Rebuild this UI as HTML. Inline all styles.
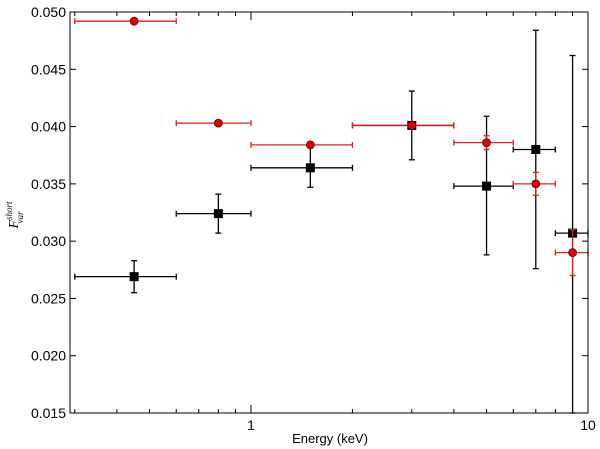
<!DOCTYPE html>
<html><head><meta charset="utf-8"><style>
html,body{margin:0;padding:0;background:#fff;}
svg{display:block;font-family:"Liberation Sans","DejaVu Sans",sans-serif;}
</style></head><body>
<svg id="chart" width="600" height="449" viewBox="0 0 600 449" xmlns="http://www.w3.org/2000/svg">
<rect width="600" height="449" fill="#fff"/>
<g id="ticks"></g>
<g id="marks"></g>
<rect x="70" y="12" width="518" height="401" fill="none" stroke="#000" stroke-width="1"/>
<text x="330" y="443" font-size="13" text-anchor="middle">Energy (keV)</text>
<text transform="translate(18,215) rotate(-90)" font-size="14" text-anchor="middle" font-family="Liberation Serif,serif" font-style="italic">F<tspan font-size="9" dy="-6">short</tspan><tspan font-size="9" dx="-22" dy="11">var</tspan></text>
</svg>
<script>
const binCenters=[0.45,0.8,1.5,3,5,7,9];
const binLo=[0.3,0.6,1,2,4,6,8];
const binHi=[0.6,1,2,4,6,8,10];
const blackVals=[0.0269,0.0324,0.0364,0.0401,0.0348,0.0380,0.0307];
const blackErrLo=[0.0255,0.0307,0.0347,0.0371,0.0288,0.0276,0.0150];
const blackErrHi=[0.0283,0.0341,0.0383,0.0431,0.0409,0.0484,0.0462];
const redVals=[0.0492,0.0403,0.0384,0.0401,0.0386,0.0350,0.0290];
const redErrLo=[0.0492,0.0403,0.0384,0.0401,0.0380,0.0340,0.0270];
const redErrHi=[0.0492,0.0403,0.0384,0.0401,0.0392,0.0360,0.0310];
const yTicks=[0.015,0.020,0.025,0.030,0.035,0.040,0.045,0.050];
const xMajor=[1,10];
const xMinor=[0.3,0.4,0.5,0.6,0.7,0.8,0.9,2,3,4,5,6,7,8,9];

const X=e=>251+337*Math.log10(e);
const Y=v=>413-(v-0.015)*401/0.035;
const NS="http://www.w3.org/2000/svg";
function mk(tag,attrs,parent){const el=document.createElementNS(NS,tag);for(const k in attrs)el.setAttribute(k,attrs[k]);parent.appendChild(el);return el;}
const tg=document.getElementById('ticks'),mg=document.getElementById('marks');

yTicks.forEach(v=>{
  const y=Y(v);
  const a=mk('line',{x1:70,x2:76,y1:y,y2:y,stroke:'#000'},tg);
  
  
  const b=mk('line',{x1:582,x2:588,y1:y,y2:y,stroke:'#000'},tg);
  
  
  const t=mk('text',{x:66,y:y+5,'font-size':14,'text-anchor':'end'},tg);
  t.textContent=v.toFixed(3);
  
  
});
xMajor.forEach(e=>{
  const x=X(e);
  const a=mk('line',{x1:x,x2:x,y1:413,y2:405,stroke:'#000'},tg);
  
  
  const b=mk('line',{x1:x,x2:x,y1:12,y2:20,stroke:'#000'},tg);
  
  
  const t=mk('text',{x:x,y:430,'font-size':14,'text-anchor':'middle'},tg);
  t.textContent=String(e);
  
  
});
xMinor.forEach(e=>{
  const x=X(e);
  const a=mk('line',{x1:x,x2:x,y1:413,y2:409,stroke:'#000'},tg);
  
  
  const b=mk('line',{x1:x,x2:x,y1:12,y2:16,stroke:'#000'},tg);
  
  
});

function series(vals,lo,hi,color,shape,name){
  const g=mk('g',{},mg);
  
  
  vals.forEach((v,i)=>{
    const cx=X(binCenters[i]),cy=Y(v),xl=X(binLo[i]),xh=X(binHi[i]),yl=Y(lo[i]),yh=Y(hi[i]);
    const eg=mk('g',{stroke:color,'stroke-width':1.3},g);
    
    
    mk('line',{x1:xl,x2:xh,y1:cy,y2:cy},eg);
    mk('line',{x1:xl,x2:xl,y1:cy-3,y2:cy+3},eg);
    mk('line',{x1:xh,x2:xh,y1:cy-3,y2:cy+3},eg);
    if(Math.abs(yl-yh)>1){
      mk('line',{x1:cx,x2:cx,y1:yl,y2:yh},eg);
      mk('line',{x1:cx-3,x2:cx+3,y1:yl,y2:yl},eg);
      mk('line',{x1:cx-3,x2:cx+3,y1:yh,y2:yh},eg);
    }
    let m;
    if(shape==='square') m=mk('rect',{x:cx-4,y:cy-4,width:8,height:8,fill:'#000',stroke:'#000'},g);
    else m=mk('circle',{cx:cx,cy:cy,r:4,fill:'#e00000',stroke:'#600','stroke-width':0.8},g);
    
    
  });
}
series(blackVals,blackErrLo,blackErrHi,'#000','square','black');
series(redVals,redErrLo,redErrHi,'#e02020','circle','red');
</script>
</body></html>
